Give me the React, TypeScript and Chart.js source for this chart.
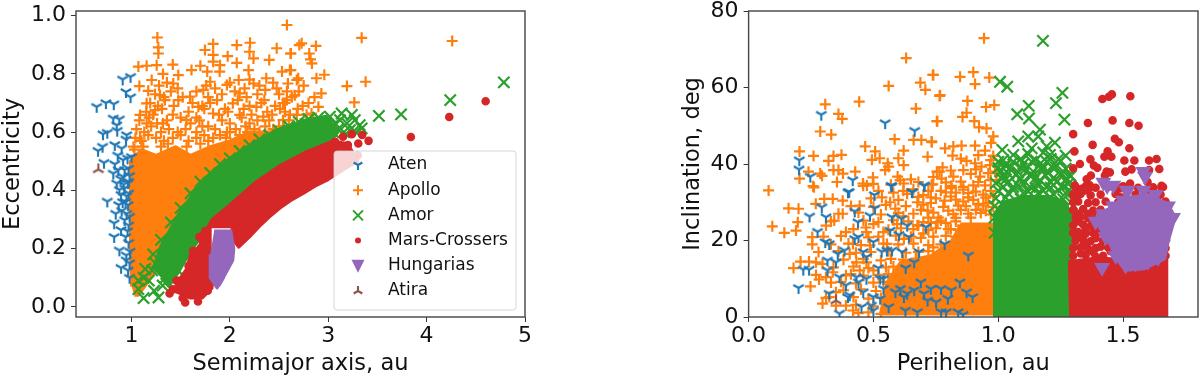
import React, { useEffect, useRef } from "react";
import { Chart, registerables } from "chart.js";
Chart.register(...registerables);

type P = [number, number];
const seriesNames = ["Aten", "Apollo", "Amor", "Mars-Crossers", "Hungarias", "Atira"];
const xTicksA = [1, 2, 3, 4, 5];
const yTicksA = [0, 0.2, 0.4, 0.6, 0.8, 1];
const xTicksB = [0, 0.5, 1, 1.5];
const yTicksB = [0, 20, 40, 60, 80];

// Semimajor axis vs eccentricity
const atenA: P[] = [[0.646,0.687],[0.74,0.7],[0.82,0.696],[0.91,0.781],[0.99,0.79],[0.944,0.738],[0.99,0.72],[0.815,0.647],[0.876,0.644],[0.85,0.624],[0.754,0.598],[0.71,0.593],[0.855,0.605],[0.95,0.59],[0.944,0.575],[0.66,0.536],[0.706,0.55],[0.83,0.556],[0.9,0.544],[1,0.515],[0.72,0.495],[0.83,0.49],[0.915,0.504],[0.866,0.47],[0.97,0.475],[0.815,0.458],[0.915,0.447],[0.97,0.43],[0.85,0.424],[0.93,0.407],[0.754,0.362],[0.894,0.385],[0.965,0.35],[0.824,0.287],[0.894,0.264],[0.93,0.298],[0.824,0.24],[0.877,0.194],[0.947,0.177],[0.894,0.134],[0.965,0.125],[0.947,0.16],[0.877,0.402],[0.965,0.425],[0.84,0.32],[0.95,0.38],[0.98,0.31],[0.96,0.26],[0.97,0.22],[0.985,0.19],[0.98,0.1],[0.87,0.35],[0.9,0.33],[0.93,0.47],[0.89,0.44],[0.96,0.51],[0.86,0.52],[0.94,0.36],[0.98,0.45],[0.92,0.42],[0.97,0.39],[0.95,0.32],[0.91,0.36],[0.97,0.28],[0.94,0.24],[0.98,0.15]];
const apolloA: P[] = [[1.263,0.925],[1.273,0.891],[1.273,0.87],[1.07,0.825],[1.154,0.828],[1.256,0.83],[1.42,0.832],[1.747,0.882],[1.83,0.903],[1.83,0.865],[1.83,0.842],[1.978,0.861],[2.07,0.899],[2.205,0.907],[2.2,0.876],[2.24,0.853],[2.07,0.838],[2.476,0.888],[2.62,0.87],[2.58,0.968],[2.706,0.899],[2.4,0.848],[2.53,0.808],[2.62,0.813],[1.61,0.813],[1.7,0.828],[1.77,0.808],[1.9,0.83],[1.896,0.808],[2.19,0.813],[1.08,0.758],[1.17,0.742],[1.32,0.8],[1.476,0.796],[1.425,0.767],[1.205,0.779],[1.595,0.722],[1.154,0.699],[1.29,0.727],[1.476,0.71],[1.087,0.659],[1.24,0.676],[1.73,0.745],[1.8,0.773],[1.97,0.762],[2.09,0.779],[2.24,0.767],[2.37,0.785],[2.476,0.75],[2.68,0.779],[2.66,0.727],[2.54,0.7],[2.36,0.745],[2.1,0.733],[1.87,0.71],[1.68,0.687],[2.27,0.687],[2.03,0.699],[1.56,0.641],[1.32,0.63],[1.154,0.63],[1.02,0.55],[1.087,0.578],[1.83,0.664],[2.1,0.659],[2.34,0.653],[2.51,0.68],[2.61,0.66],[2.73,0.905],[2.875,0.896],[2.617,0.87],[2.807,0.87],[2.82,0.85],[2.834,0.836],[3.34,0.924],[4.26,0.913],[2.61,0.813],[2.88,0.785],[2.96,0.797],[2.695,0.785],[3.38,0.773],[3.19,0.758],[2.59,0.767],[2.93,0.733],[3.265,0.702],[2.56,0.7],[2.8,0.7],[2.9,0.687],[2.68,0.659],[2.54,0.641],[2.83,0.664],
[1.28,0.76],[1.36,0.77],[1.47,0.75],[1.76,0.76],[1.85,0.75],[2.0,0.77],[2.15,0.75],[2.2,0.78],[2.3,0.76],[2.44,0.77],[2.58,0.74],[2.75,0.76],
[1.24,0.73],[1.33,0.72],[1.4,0.74],[1.52,0.72],[1.66,0.74],[1.78,0.72],[1.92,0.73],[2.05,0.74],[2.17,0.72],[2.28,0.73],[2.35,0.71],[2.5,0.73],[2.63,0.72],[2.7,0.74],[2.86,0.72],
[1.19,0.7],[1.27,0.69],[1.34,0.71],[1.43,0.69],[1.62,0.7],[1.72,0.69],[1.8,0.7],[1.95,0.68],[2.08,0.71],[2.2,0.69],[2.32,0.7],[2.46,0.69],[2.58,0.71],[2.74,0.69],
[1.15,0.67],[1.22,0.66],[1.31,0.68],[1.42,0.66],[1.58,0.67],[1.66,0.65],[1.74,0.68],[1.89,0.66],[1.98,0.67],[2.14,0.68],[2.22,0.66],[2.38,0.67],[2.43,0.66],[2.56,0.67],[2.69,0.68],[2.78,0.66],
[1.08,0.64],[1.18,0.65],[1.26,0.63],[1.36,0.64],[1.5,0.65],[1.6,0.63],[1.69,0.64],[1.78,0.62],[1.92,0.64],[2.0,0.63],[2.12,0.65],[2.2,0.63],[2.28,0.64],[2.4,0.64],[2.5,0.62],[2.6,0.64],[2.72,0.63],[2.85,0.64],
[1.05,0.61],[1.13,0.6],[1.2,0.62],[1.3,0.6],[1.38,0.61],[1.47,0.6],[1.55,0.61],[1.66,0.6],[1.72,0.62],[1.85,0.61],[1.97,0.6],[2.06,0.61],[2.16,0.62],[2.25,0.61],[2.36,0.62],[2.44,0.61],[2.55,0.62],
[1.04,0.58],[1.1,0.57],[1.17,0.59],[1.25,0.58],[1.33,0.57],[1.42,0.58],[1.5,0.59],[1.58,0.57],[1.66,0.58],[1.74,0.59],[1.83,0.58],[1.9,0.59],[2.0,0.6],[2.1,0.59],[2.18,0.6],[2.3,0.6],
[1.03,0.54],[1.12,0.55],[1.3,0.55],[1.37,0.56],[1.56,0.55],[1.7,0.56],[1.78,0.57],[1.96,0.58]];
const amorA: P[] = [[4.785,0.771],[4.24,0.71],[3.515,0.656],[3.74,0.661],[3.017,0.653],[3.136,0.664],[3.24,0.659],[3.32,0.624],[3.07,0.63],[3.19,0.63],[3.27,0.641],[3.34,0.613],[3.22,0.607],[3.12,0.641],[2.95,0.63],[1.123,0.03],[1.275,0.032],[1.07,0.061],[1.176,0.09],[1.14,0.13],[1.317,0.073],[1.23,0.055],[1.352,0.102],[1.458,0.13],[1.21,0.125],[1.246,0.148],[1.123,0.1],[1.07,0.09],[3.1,0.61],[3.16,0.6],[3.28,0.6],[3.05,0.6],
[1.22,0.18],[1.3,0.23],[1.4,0.29],[1.5,0.34],[1.6,0.39],[1.7,0.43],[1.8,0.46],[1.9,0.49],[2.0,0.51],[2.1,0.535],[2.2,0.555],[2.3,0.575],[2.4,0.59],[2.5,0.605],[2.6,0.62],[2.7,0.635],[2.8,0.645],[2.9,0.65]];
const marsA: P[] = [[4.6,0.706],[4.23,0.652],[3.84,0.583],[3.24,0.593],[3.345,0.59],[3.41,0.57],[3.305,0.561],[3.15,0.584],[3.2,0.556],[3.07,0.567],[3.27,0.504],[1.546,0.015],[1.676,0.018],[1.387,0.046],[1.458,0.09],[1.627,0.192],[1.775,0.055],[1.72,0.24],[3.1,0.53],[3.3,0.52],[1.42,0.06],[1.5,0.09],[1.55,0.05],[1.6,0.1],[1.62,0.14],[1.7,0.2],[1.75,0.26],[1.73,0.05],[1.52,0.03],[1.8,0.08],[1.58,0.14],[1.66,0.19],[1.69,0.24]];
const hungariaA: P[] = [[1.9,0.24],[1.98,0.24],[1.85,0.15],[2,0.18],[1.9,0.09]];
const atiraA: P[] = [[0.663,0.472]];
const apolloCoreA: P[] = [[1,0.07],[0.99,0.2],[0.99,0.5],[1.1,0.54],[1.25,0.52],[1.45,0.55],[1.6,0.52],[1.8,0.55],[2,0.57],[2.2,0.6],[2.4,0.6],[2.6,0.62],[2.8,0.62],[2.6,0.5],[2,0.4],[1.5,0.25],[1.2,0.1],[1.07,0.04],[1.03,0.04]];
const amorCoreA: P[] = [[1.22,0.13],[1.3,0.21],[1.5,0.33],[1.7,0.42],[2,0.51],[2.25,0.565],[2.5,0.61],[2.75,0.64],[2.98,0.655],[3.1,0.6],[3,0.56],[2.5,0.48],[2,0.35],[1.75,0.26],[1.6,0.19],[1.48,0.12],[1.38,0.07],[1.3,0.1]];
const marsCoreA: P[] = [[1.77,0.27],[1.82,0.3],[2,0.35],[2.25,0.425],[2.51,0.485],[2.78,0.533],[3.05,0.57],[3.2,0.56],[3.3,0.5],[3.15,0.47],[3,0.437],[2.87,0.415],[2.75,0.39],[2.62,0.365],[2.51,0.339],[2.4,0.308],[2.3,0.276],[2.2,0.24],[2.09,0.205],[2.03,0.23],[2.02,0.27]];
const marsBlobA: P[] = [[1.42,0.05],[1.48,0.09],[1.56,0.13],[1.6,0.18],[1.68,0.18],[1.72,0.26],[1.8,0.27],[1.8,0.1],[1.82,0.065],[1.72,0.03],[1.6,0.03],[1.5,0.04]];
const hungariaCoreA: P[] = [[1.84,0.26],[2.01,0.26],[2.04,0.2],[2.03,0.16],[1.95,0.11],[1.87,0.065],[1.8,0.1],[1.8,0.18]];

// Perihelion vs inclination
const atenB: P[] = [[0.2,7.6],[0.219,12.4],[0.242,12.4],[0.244,26.3],[0.276,22.3],[0.293,28.7],[0.31,26.1],[0.307,19.6],[0.323,19.1],[0.316,14.8],[0.35,14.3],[0.316,12.2],[0.364,10.4],[0.323,6.1],[0.364,0.9],[0.398,32.6],[0.425,27.6],[0.438,24.8],[0.425,20.4],[0.44,20.9],[0.384,17.4],[0.357,16.5],[0.459,17],[0.472,15.7],[0.5,19.6],[0.486,26.5],[0.506,28.4],[0.504,31.9],[0.574,26.1],[0.612,25.7],[0.635,23.9],[0.567,22.6],[0.602,21.5],[0.642,20.9],[0.71,23.5],[0.785,19.1],[0.88,16.1],[0.683,17],[0.663,14.3],[0.615,17],[0.554,17.4],[0.533,17.1],[0.574,17.4],[0.629,12.8],[0.52,12.8],[0.432,10.4],[0.472,10],[0.39,8.3],[0.44,9.1],[0.527,10],[0.54,10],[0.405,5.7],[0.398,5.2],[0.459,6.5],[0.5,5.2],[0.527,4.8],[0.54,7.4],[0.452,2.6],[0.492,3],[0.5,1.7],[0.561,2.6],[0.588,6.5],[0.608,7.4],[0.622,5.2],[0.635,6.1],[0.663,7],[0.69,9.1],[0.703,6.1],[0.73,7.4],[0.717,4.3],[0.751,3.9],[0.771,7.4],[0.812,7],[0.798,4.8],[0.846,9.1],[0.873,6.5],[0.897,5.2],[0.628,1.7],[0.676,1.3],[0.771,1.3],[0.791,1.3],[0.839,1.3],[0.859,0.6],[0.574,34.2],[0.656,32.6],[0.703,34.3],[0.291,52.9],[0.547,50.7],[0.665,48.7],[0.203,41],[0.202,38.6],[0.247,36.7],[0.417,35.8],[0.571,34.3],[0.705,34.4],[0.654,32.7],[0.403,32.7]];
const apolloB: P[] = [[0.631,67.7],[0.738,63.3],[0.561,60.4],[0.688,61.3],[0.708,59.4],[0.765,57.8],[0.307,55.6],[0.443,56.3],[0.67,54.5],[0.36,53.1],[0.375,51.8],[0.754,51.2],[0.287,48.5],[0.331,47.7],[0.585,46.5],[0.661,46.3],[0.692,46.3],[0.734,45.7],[0.204,43.3],[0.26,42.1],[0.467,44.6],[0.507,43.3],[0.621,43.5],[0.34,42.1],[0.372,42.4],[0.32,40.8],[0.494,41.1],[0.525,41.5],[0.6,41.5],[0.717,41.9],[0.557,40.2],[0.561,39.3],[0.621,39.7],[0.547,38.4],[0.34,38.4],[0.36,38.4],[0.378,37.5],[0.287,37.5],[0.294,36.9],[0.24,38],[0.204,36.2],[0.427,38],[0.354,35.3],[0.498,36.5],[0.597,36.7],[0.65,36],[0.621,34.9],[0.458,34.9],[0.474,34.4],[0.738,34.7],[0.258,34.2],[0.08,33.1],[0.754,38],[0.607,35.8],[0.943,72.9],[0.74,63.3],[0.847,62.8],[0.9,64],[0.907,60.9],[0.964,62.6],[0.767,58],[0.877,56.5],[0.951,54.9],[0.984,55.4],[0.873,53.4],[0.857,52.3],[0.756,51.2],[0.904,51.2],[0.923,49.6],[0.953,49.3],[0.98,47.2],[0.971,45.5],[0.733,45.9],[0.787,44.1],[0.82,44.6],[0.853,44.8],[0.907,44.8],[0.947,43.5],[0.817,42.2],[0.98,42.1],[0.873,40.8],[0.907,40.2],[0.777,39.1],[0.764,38],[0.86,38.4],[0.933,39.3],[0.967,39.7],[0.987,38],[0.82,36.7],[0.773,36.2],[0.927,36.7],[0.9,34.4],[0.733,34.6],[0.813,33.7],[0.86,34],[0.947,34.4],[0.993,35.8],[0.16,28.4],[0.2,28.3],[0.095,23.7],[0.143,22],[0.19,22.6],[0.197,24.8],[0.18,12.8],[0.208,14.5],[0.242,14.5],[0.27,14.3],[0.296,13.9],[0.248,8],[0.282,9.8],[0.31,10.4],[0.262,33.9],[0.269,29.6],[0.303,30.9],[0.337,30.9],[0.377,30.4],[0.445,29.1],[0.534,31.3],[0.567,30],[0.588,28.3],[0.31,23.9],[0.255,20.9],[0.255,19],[0.343,25.2],[0.377,27],[0.5,24.3],[0.39,22.2],[0.472,22.2],[0.54,22.2],[0.418,19.1],[0.486,18.7],[0.432,14.3],[0.405,16.5],[0.472,14.3],[0.5,12.2],[0.445,12.2],[0.323,5.2],[0.296,3.5],[0.39,3],[0.418,1.7],[0.35,6.5],[0.39,10.9],[0.337,11.7],[0.5,34.8],[0.459,34.3],[0.635,32.2],[0.676,30],[0.73,31.3],[0.785,30.4],[0.84,29.1],[0.88,31.3],[0.92,29.6],[0.812,34.3],[0.717,27.8],[0.757,24.8],[0.676,23.9],[0.595,24.3],[0.622,20.4],[0.554,19.1],
[0.52,33],[0.58,32.5],[0.66,33.4],[0.72,33],[0.79,32.6],[0.86,33.3],[0.91,32.8],[0.97,33],
[0.49,31],[0.6,30.6],[0.68,31.4],[0.75,31],[0.81,31.5],[0.83,30.7],[0.95,31.2],
[0.41,29],[0.5,28.8],[0.55,29.3],[0.63,29],[0.7,29.4],[0.78,28.8],[0.87,29],[0.94,29.2],[0.98,28.8],
[0.36,27],[0.44,27.3],[0.53,26.8],[0.6,27.2],[0.66,27],[0.74,27.3],[0.82,26.9],[0.88,27],[0.93,27.2],[0.97,26.8],
[0.33,25],[0.46,25.2],[0.52,24.8],[0.58,25.3],[0.64,25],[0.7,24.8],[0.77,25.2],[0.83,25],
[0.42,23],[0.47,23.4],[0.56,22.8],[0.61,23.2],[0.66,23],[0.72,22.7],[0.75,23.2],[0.8,23],[0.84,22.8],
[0.3,21],[0.37,21.2],[0.48,20.8],[0.52,21],[0.59,21.3],[0.65,21],[0.69,20.7],[0.74,21],[0.79,21.2],[0.83,21],
[0.33,19],[0.4,19.2],[0.45,18.8],[0.54,19.2],[0.6,19],[0.66,19.2],[0.72,18.8],[0.77,19],
[0.28,17],[0.36,17.2],[0.43,16.8],[0.49,17],[0.56,17.2],[0.63,16.8],[0.68,17],[0.72,17.2],
[0.38,15],[0.46,15.2],[0.53,14.8],[0.57,15.2],[0.62,15],[0.67,15.3],
[0.34,13],[0.42,13.2],[0.48,12.8],[0.55,13],[0.58,13.2],
[0.27,11],[0.41,11.2],[0.46,10.8],[0.52,11],[0.56,11.2],
[0.33,9],[0.37,9.2],[0.43,8.8],[0.5,9],[0.54,9.2],
[0.38,7],[0.45,7.2],[0.51,6.8],
[0.31,5],[0.42,5.2],[0.48,4.8],[0.53,5],
[0.35,3],[0.43,3.2],[0.5,2.8],[0.44,1],[0.48,1.2],[0.53,0.8],
[0.76,26],[0.8,27.8],[0.85,28],[0.89,26],[0.91,28],[0.95,27.8],[0.86,30.2],[0.9,30.6],[0.96,29.8],[0.72,26],[0.69,28],[0.73,29.8],[0.83,32.5],[0.88,32.4],[0.94,32],[0.98,31.6],[0.77,33],[0.7,31.9],[0.85,35.4],[0.92,35.3],[0.97,35.8],[0.79,35.2],[0.89,37.4],[0.96,37.6],[0.81,38.3],[0.91,38.6],[0.97,41],[0.85,41.4],[0.92,42.3],[0.74,36.6],[0.68,35.3],[0.62,33],[0.57,34.6],[0.68,24],[0.73,24.6],[0.62,26.3],[0.79,24.6],[0.81,23],[0.74,18.2],[0.79,18],[0.7,21.8],[0.83,25.9]];
const amorB: P[] = [[1.179,72.2],[1.007,61.5],[1.036,60.2],[1.257,58.6],[1.231,55.9],[1.122,55.2],[1.076,53],[1.123,51.9],[1.265,51.6],[1.167,49],[1.12,47.2],[1.08,45.9],[1.16,47.2],[1.227,45.6],[1.194,44.6],[1.016,43.7],[1.134,44.1],[1.27,42.2],[1.207,42.4],[1.134,40.6],[1.194,40.6],[1.06,40.6],[1.027,39.7],[1.094,38.9],[1.18,38.9],[1.214,39.3],[1,40.6],[1.287,37.1],[1.04,37.5],[1.127,37.1],[1.234,35.3],[1.087,36.2],[1.167,35.8],[1.274,36.2],[1.014,36.2],[1.06,34],[1.127,34],[1.194,34],[1.26,34],
[1.02,41],[1.09,41.3],[1.15,41],[1.21,41.3],[1.25,40.8],
[1,39],[1.05,39.2],[1.11,38.8],[1.17,39],[1.23,39.2],[1.27,38.8],
[1.02,37],[1.07,37.2],[1.13,36.8],[1.19,37],[1.25,37.2],[1.29,36.8],
[0.99,35],[1.04,35.2],[1.1,34.8],[1.16,35],[1.21,35.2],[1.28,34.8],
[1,33],[1.06,33.2],[1.12,32.8],[1.18,33],[1.24,33.2],[1.29,32.8],
[0.99,31],[1.03,31.2],[1.09,30.8],[1.15,31],[1.21,31.2],[1.26,30.8],[1.29,30],
[0.985,29],[0.985,26],[1.295,27],[1.295,24],[0.985,22],[1.295,20],
[1.03,36],[1.09,36.2],[1.15,36.4],[1.22,36.3],[1.27,35.6],[1.02,34],[1.08,34.4],[1.15,33.6],[1.21,33.8],[1.27,32.4],[1.01,38],[1.08,37.8],[1.14,38],[1.2,37.9],[1.26,38],[1.04,32.4],[1.1,32.4],[1.16,32.4],[1.22,32.2],[1.03,39.6],[1.1,40],[1.17,40.2],[1.24,41.2],[1.06,42.4],[1.12,42.6],[1.18,43]];
const marsB: P[] = [[1.417,57],[1.443,57.6],[1.455,58.2],[1.529,57.7],[1.359,50.7],[1.458,51.4],[1.525,50.7],[1.562,50],[1.3,47.8],[1.467,46.6],[1.483,45.7],[1.378,45],[1.525,44.1],[1.305,43.3],[1.438,43.3],[1.425,41.9],[1.453,41.9],[1.369,41.2],[1.505,40.9],[1.545,40.9],[1.604,40.9],[1.634,41.3],[1.3,38.9],[1.327,40],[1.383,39.6],[1.397,39],[1.509,38],[1.534,38.6],[1.604,38.4],[1.645,38.7],[1.434,38],[1.447,37.8],[1.371,37],[1.427,37],[1.354,36],[1.307,34.4],[1.367,34.4],[1.528,34.9],[1.598,35.3],[1.654,34.3],[1.621,33.6],[1.347,33.1],[1.487,33.6],[1.368,33.9],[1.314,32.2],[1.49,31.3],[1.334,33.5],[1.654,33.9],[1.62,33.9],
[1.31,34],[1.35,34.2],[1.39,33.8],[1.44,34],[1.5,34.2],[1.56,33.8],[1.66,34],
[1.3,32],[1.33,32.2],[1.37,31.8],[1.41,32],[1.47,32.2],[1.55,32],[1.6,31.8],[1.65,32],
[1.3,30],[1.32,30.2],[1.36,29.8],[1.39,30],[1.43,30.2],[1.48,30],[1.63,30],[1.67,30.2],
[1.3,28],[1.34,28.2],[1.38,27.8],[1.41,28],[1.66,28],
[1.31,26],[1.33,26.2],[1.36,25.8],[1.39,26],
[1.3,24],[1.34,24.2],[1.37,23.8],[1.4,24],
[1.3,22],[1.32,22.2],[1.35,21.8],[1.38,22],[1.41,22.2],
[1.31,20],[1.34,20.2],[1.37,19.8],[1.42,20],
[1.3,18],[1.33,18.2],[1.36,17.8],[1.39,18],[1.44,18.2],[1.67,18],
[1.3,16],[1.35,16.2],[1.39,15.8],[1.42,16],[1.47,16.2],[1.67,16],
[1.32,27],[1.36,27],[1.32,25],[1.35,23],[1.33,21],[1.39,20.6],[1.35,19],[1.41,18.4],[1.33,16.6],[1.38,17],[1.45,17.2],[1.4,22.8],[1.38,24.6]];
const hungariaB: P[] = [[1.581,38],[1.421,35.2],[1.461,34.4],[1.514,33.1],[1.581,33.1],[1.588,36.7],[1.416,12.9],[1.436,34.3],[1.518,33],[1.51,13.5],[1.55,14],[1.6,14.5],[1.64,15.5],[1.47,16],[1.43,21],[1.39,25],[1.7,26],[1.66,19],[1.54,30],[1.46,29],[1.63,32],[1.42,27],[1.5,30.5],[1.68,29],[1.66,24],[1.49,17]];
const atiraB: P[] = [[0.35,4.3]];
const apolloCoreB: P[] = [[0.527,0.4],[0.554,9],[0.608,14.3],[0.73,16],[0.81,19.6],[0.853,24.3],[0.985,24.3],[0.985,0.4]];
const amorCoreB: P[] = [[0.985,0],[0.985,27],[1.02,30],[1.1,31.5],[1.2,31.5],[1.27,30],[1.295,26],[1.295,0]];
const marsCoreB: P[] = [[1.29,0],[1.285,14.5],[1.4,15.5],[1.5,15],[1.672,16],[1.675,0]];
const hungariaCoreB: P[] = [[1.402,27.4],[1.389,25.2],[1.45,18.7],[1.477,14.8],[1.51,12.2],[1.585,12.6],[1.666,15.2],[1.68,19.6],[1.708,26],[1.68,29.6],[1.6,32],[1.5,31],[1.45,29]];

const BLUE = "#1f77b4", ORANGE = "#ff7f0e", GREEN = "#2ca02c", RED = "#d62728", PURPLE = "#9467bd", BROWN = "#8c564b";
const seriesColors = [BLUE, ORANGE, GREEN, RED, PURPLE, BROWN];

function spokes(ctx: any, cx: number, cy: number, r: number, color: string, up: boolean) {
  ctx.save();
  ctx.strokeStyle = color;
  ctx.lineWidth = 2.1;
  const s = up ? -1 : 1;
  ctx.beginPath();
  ctx.moveTo(cx, cy); ctx.lineTo(cx, cy + s * r);
  ctx.moveTo(cx, cy); ctx.lineTo(cx - 0.87 * r, cy - s * 0.5 * r);
  ctx.moveTo(cx, cy); ctx.lineTo(cx + 0.87 * r, cy - s * 0.5 * r);
  ctx.stroke();
  ctx.restore();
}
function spokeImage(color: string, up: boolean) {
  const c = document.createElement("canvas");
  c.width = 16; c.height = 16;
  spokes(c.getContext("2d"), 8, 8, 6, color, up);
  return c;
}
const pts = (a: P[]) => a.map(([x, y]) => ({ x, y }));
function marks(label: string, data: P[], order: number, color: string, style: any, radius: number, extra: any = {}) {
  return { label, data: pts(data), order, showLine: false, pointStyle: style, pointRadius: radius, pointBorderColor: color, pointBackgroundColor: color, pointBorderWidth: 2.2, ...extra };
}
function area(label: string, data: P[], order: number, color: string) {
  return { label, data: pts(data), order, showLine: true, fill: "shape", tension: 0, pointRadius: 0, borderColor: color, backgroundColor: color, borderWidth: 3, borderJoinStyle: "round" };
}
const frame = {
  id: "frame",
  afterDatasetsDraw(chart: any) {
    const { ctx, chartArea: a } = chart;
    ctx.save();
    ctx.strokeStyle = "#444";
    ctx.lineWidth = 1.4;
    ctx.strokeRect(a.left, a.top, a.right - a.left, a.bottom - a.top);
    ctx.restore();
  },
};
const legendBox = {
  id: "legendBox",
  afterDatasetsDraw(chart: any) {
    const ctx = chart.ctx;
    const x0 = 334, y0 = 151, w = 182, h = 159;
    ctx.save();
    ctx.beginPath();
    ctx.roundRect(x0, y0, w, h, 3);
    ctx.fillStyle = "rgba(255,255,255,0.8)";
    ctx.fill();
    ctx.strokeStyle = "rgba(204,204,204,0.8)";
    ctx.lineWidth = 1;
    ctx.stroke();
    seriesNames.forEach((name, i) => {
      const y = 165 + i * 25.2;
      const mx = 358;
      const color = seriesColors[i];
      ctx.strokeStyle = color;
      ctx.fillStyle = color;
      ctx.lineWidth = 2;
      if (i === 0) spokes(ctx, mx, y, 5, color, false);
      if (i === 5) spokes(ctx, mx, y, 5, color, true);
      if (i === 1) { ctx.beginPath(); ctx.moveTo(mx - 5, y); ctx.lineTo(mx + 5, y); ctx.moveTo(mx, y - 5); ctx.lineTo(mx, y + 5); ctx.stroke(); }
      if (i === 2) { ctx.beginPath(); ctx.moveTo(mx - 5, y - 5); ctx.lineTo(mx + 5, y + 5); ctx.moveTo(mx + 5, y - 5); ctx.lineTo(mx - 5, y + 5); ctx.stroke(); }
      if (i === 3) { ctx.beginPath(); ctx.arc(mx, y, 3, 0, 7); ctx.fill(); }
      if (i === 4) { ctx.beginPath(); ctx.moveTo(mx - 6.5, y - 6); ctx.lineTo(mx + 6.5, y - 6); ctx.lineTo(mx, y + 7); ctx.closePath(); ctx.fill(); }
      ctx.fillStyle = "#111";
      ctx.font = "17px 'DejaVu Sans'";
      ctx.textBaseline = "middle";
      ctx.textAlign = "left";
      ctx.fillText(name, 388, y);
    });
    ctx.restore();
  },
};
function axis(title: string, min: number, max: number, values: number[], digits: number, size: number, isX: boolean, padB: number) {
  return {
    type: "linear", min, max,
    title: { display: true, text: title, color: "#111", font: { family: "DejaVu Sans", size: 22.5 }, padding: isX ? { top: 0, bottom: padB } : { top: padB, bottom: 0 } },
    grid: { drawOnChartArea: false, drawTicks: true, tickLength: 5, color: "#333", lineWidth: 1 },
    border: { display: false },
    ticks: { autoSkip: false, maxRotation: 0, minRotation: 0, color: "#111", padding: isX ? 1.5 : 5, font: { family: "DejaVu Sans", size: 22 }, callback: (v: number) => v.toFixed(digits) },
    afterBuildTicks: (s: any) => { s.ticks = values.map((value) => ({ value })); },
    afterFit: (s: any) => {
      if (isX) s.height = size; else s.width = size;
      s.paddingTop = 0; s.paddingBottom = 0; s.paddingLeft = 0; s.paddingRight = 0;
    },
  };
}
function makeChart(canvas: HTMLCanvasElement, datasets: any[], scales: any, padding: any, plugins: any[]) {
  return new Chart(canvas, {
    type: "scatter",
    data: { datasets },
    options: {
      animation: false, responsive: false, devicePixelRatio: 1,
      layout: { padding, autoPadding: false },
      plugins: { legend: { display: false }, tooltip: { enabled: false } },
      scales,
    },
    plugins,
  } as any);
}

export default function App() {
  const refA = useRef<HTMLCanvasElement>(null);
  const refB = useRef<HTMLCanvasElement>(null);
  useEffect(() => {
    const yImg = spokeImage(BLUE, false), tImg = spokeImage(BROWN, true);
    const a = makeChart(refA.current!, [
      marks(seriesNames[0], atenA, 7, BLUE, yImg, 6),
      marks(seriesNames[1], apolloA, 8, ORANGE, "cross", 5.5),
      area("Apollo dense", apolloCoreA, 9, ORANGE),
      marks(seriesNames[2], amorA, 5, GREEN, "crossRot", 8),
      area("Amor dense", amorCoreA, 6, GREEN),
      marks(seriesNames[3], marsA, 3, RED, "circle", 3.2),
      area("Mars dense", marsCoreA, 4, RED),
      area("Mars blob", marsBlobA, 4, RED),
      marks(seriesNames[4], hungariaA, 1, PURPLE, "triangle", 4, { pointRotation: 180 }),
      area("Hungarias dense", hungariaCoreA, 2, PURPLE),
      marks(seriesNames[5], atiraA, 0, BROWN, tImg, 6),
    ], {
      x: axis("Semimajor axis, au", 0.436, 5, xTicksA, 0, 61, true, 0),
      y: axis("Eccentricity", -0.035, 1.016, yTicksA, 1, 76, false, 0),
    }, { top: 11, right: 75, left: 0, bottom: 0 }, [frame, legendBox]);
    const b = makeChart(refB.current!, [
      marks(seriesNames[0], atenB, 7, BLUE, yImg, 6),
      marks(seriesNames[1], apolloB, 8, ORANGE, "cross", 5.5),
      area("Apollo dense", apolloCoreB, 9, ORANGE),
      marks(seriesNames[2], amorB, 5, GREEN, "crossRot", 8),
      area("Amor dense", amorCoreB, 6, GREEN),
      marks(seriesNames[3], marsB, 3, RED, "circle", 3.2),
      area("Mars dense", marsCoreB, 4, RED),
      marks(seriesNames[4], hungariaB, 1, PURPLE, "triangle", 7, { pointRotation: 180 }),
      area("Hungarias dense", hungariaCoreB, 2, PURPLE),
      marks(seriesNames[5], atiraB, 0, BROWN, tImg, 6),
    ], {
      x: axis("Perihelion, au", 0, 1.8, xTicksB, 1, 61, true, 0),
      y: axis("Inclination, deg", 0, 80, yTicksB, 0, 68.6, false, 0),
    }, { top: 11, right: 2, left: 80, bottom: 0 }, [frame]);
    return () => { a.destroy(); b.destroy(); };
  }, []);
  return (
    <div style={{ position: "absolute", left: 0, top: 0, width: 1200, height: 378, background: "#fff", overflow: "hidden" }}>
      <canvas ref={refA} width={600} height={378} style={{ position: "absolute", left: 0, top: 0, display: "block" }} />
      <canvas ref={refB} width={600} height={378} style={{ position: "absolute", left: 600, top: 0, display: "block" }} />
    </div>
  );
}
